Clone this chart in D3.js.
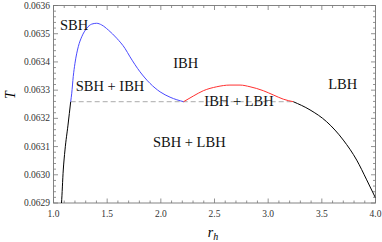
<!DOCTYPE html>
<html>
<head>
<meta charset="utf-8">
<script src="https://cdnjs.cloudflare.com/ajax/libs/d3/7.8.5/d3.min.js"></script>
<style>
  html,body{margin:0;padding:0;background:#fff;}
</style>
</head>
<body>
<div id="chart"></div>
<script>
// T(r_h), split by colour
var blackLeft=[[1.070,0.06288],[1.0745,0.06290],[1.091,0.063017],[1.107,0.063088],[1.135,0.063176],[1.160,0.063259]];
var blueSeg=[[1.160,0.063259],[1.170,0.063289],[1.184,0.063348],[1.200,0.063395],[1.231,0.063454],[1.263,0.063489],
	[1.309,0.063519],[1.356,0.063534],[1.402,0.063537],[1.449,0.063531],[1.511,0.063513],[1.589,0.063484],
	[1.666,0.063448],[1.713,0.063418],[1.806,0.063365],[1.899,0.063324],[1.993,0.063294],[2.086,0.063275],[2.212,0.063259]];
var redSeg=[[2.212,0.063259],[2.302,0.063279],[2.396,0.063298],[2.521,0.063312],[2.644,0.063318],[2.738,0.063318],
	[2.831,0.063312],[2.955,0.063298],[3.048,0.063283],[3.141,0.063268],[3.234,0.063259]];
var blackRight=[[3.234,0.063259],[3.390,0.063230],[3.545,0.063188],[3.700,0.063123],[3.825,0.063052],[3.918,0.062982],[4.0,0.062918]];
var tCoexist=0.063259;

var xTickLabels=["1.0","1.5","2.0","2.5","3.0","3.5","4.0"];
var yTickLabels=["0.0629","0.0630","0.0631","0.0632","0.0633","0.0634","0.0635","0.0636"];
var phaseNames=["SBH","SBH + IBH","IBH","IBH + LBH","SBH + LBH","LBH"];
var phaseAt=[[1.061,0.063513],[1.207,0.063298],[2.116,0.063377],[2.405,0.063245],[1.927,0.063097],[3.560,0.063304]];

var width=382,height=242;
var serif="'Liberation Serif', 'Times New Roman', serif";
var x=d3.scaleLinear().domain([1,4]).range([53.5,375.5]);
var y=d3.scaleLinear().domain([0.0629,0.0636]).range([203,5.5]);

var svg=d3.select("#chart").append("svg").attr("width",width).attr("height",height);
svg.style("font-family",serif);

svg.append("defs").append("clipPath").attr("id","plotclip")
	.append("rect").attr("x",x(1)).attr("y",y(0.0636)).attr("width",x(4)-x(1)).attr("height",y(0.0629)-y(0.0636));

// frame ticks, inward on all four sides
var tickCol="#777";
var xMinor=d3.range(1,4.0001,0.1),yMinor=d3.range(0.0629,0.063601,0.00002);
var xMajor=xTickLabels.map(Number),yMajor=yTickLabels.map(Number);
var g=svg.append("g").attr("stroke",tickCol).attr("stroke-width",0.8);
xMinor.forEach(function(v){
	var major=xMajor.some(m=>Math.abs(m-v)<1e-6),len=major?4.5:2.5;
	g.append("line").attr("x1",x(v)).attr("x2",x(v)).attr("y1",y.range()[0]).attr("y2",y.range()[0]-len);
	g.append("line").attr("x1",x(v)).attr("x2",x(v)).attr("y1",y.range()[1]).attr("y2",y.range()[1]+len);
});
yMinor.forEach(function(v){
	var major=yMajor.some(m=>Math.abs(m-v)<1e-9),len=major?4.5:2.5;
	g.append("line").attr("y1",y(v)).attr("y2",y(v)).attr("x1",x.range()[0]).attr("x2",x.range()[0]+len);
	g.append("line").attr("y1",y(v)).attr("y2",y(v)).attr("x1",x.range()[1]).attr("x2",x.range()[1]-len);
});
svg.append("rect").attr("x",x(1)).attr("y",y(0.0636)).attr("width",x(4)-x(1)).attr("height",y(0.0629)-y(0.0636))
	.attr("fill","none").attr("stroke",tickCol).attr("stroke-width",0.9);

// tick labels
svg.append("g").selectAll("text").data(xTickLabels).join("text")
	.style("font-family",serif)
	.attr("x",d=>x(+d)).attr("y",216.5).attr("text-anchor","middle")
	.attr("font-size",9.5).attr("fill","#333").text(d=>d);
svg.append("g").selectAll("text").data(yTickLabels).join("text")
	.style("font-family",serif)
	.attr("x",50).attr("y",d=>y(+d)+3).attr("text-anchor","end")
	.attr("font-size",9.5).attr("fill","#333").text(d=>d);

// coexistence line
var plot=svg.append("g").attr("clip-path","url(#plotclip)");
plot.append("line").attr("x1",x(blueSeg[0][0])).attr("x2",x(redSeg[redSeg.length-1][0]))
	.attr("y1",y(tCoexist)).attr("y2",y(tCoexist))
	.attr("stroke","#aaa").attr("stroke-width",1).attr("stroke-dasharray","5,3");

var line=d3.line().x(d=>x(d[0])).y(d=>y(d[1])).curve(d3.curveMonotoneX);
[[blackLeft,"#000"],[blueSeg,"#4a4aff"],[redSeg,"#ff3030"],[blackRight,"#000"]].forEach(function(s){
	plot.append("path").datum(s[0]).attr("d",line).attr("fill","none").attr("stroke",s[1]).attr("stroke-width",1);
});

// phase labels
svg.append("g").selectAll("text").data(phaseNames).join("text")
	.style("font-family",serif)
	.attr("x",(d,i)=>x(phaseAt[i][0])).attr("y",(d,i)=>y(phaseAt[i][1]))
	.attr("font-size",14.5).attr("fill","#111").text(d=>d);

// axis titles
svg.append("text").style("font-family",serif).attr("transform","translate(15,95) rotate(-90)").attr("text-anchor","middle")
	.attr("font-size",14).attr("font-style","italic").text("T");
var xt=svg.append("text").style("font-family",serif).attr("x",213).attr("y",237).attr("text-anchor","middle")
	.attr("font-size",14).attr("font-style","italic");
xt.append("tspan").text("r");
xt.append("tspan").attr("font-size",10).attr("dy",2.5).text("h");
</script>
</body>
</html>
